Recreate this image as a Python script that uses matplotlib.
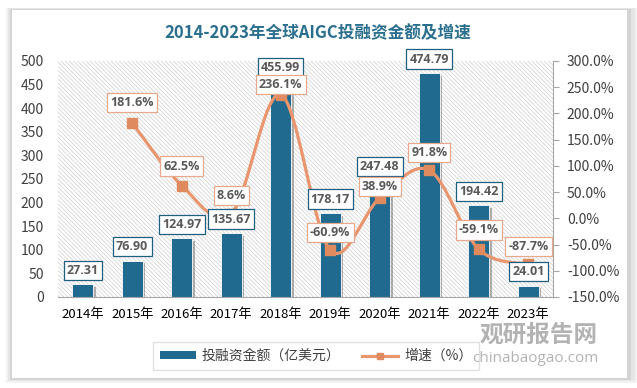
import matplotlib
matplotlib.use("Agg")
import matplotlib.pyplot as plt
import matplotlib.patheffects as pe
from matplotlib.patches import Rectangle, Patch
from matplotlib.lines import Line2D
from matplotlib.path import Path
from matplotlib.patches import PathPatch
from matplotlib.ticker import FuncFormatter

plt.rcParams['font.family'] = ['Noto Sans CJK SC', 'DejaVu Sans']
plt.rcParams['hatch.linewidth'] = 0.6

years = ['2014年', '2015年', '2016年', '2017年', '2018年',
         '2019年', '2020年', '2021年', '2022年', '2023年']
amount = [27.31, 76.90, 124.97, 135.67, 455.99, 178.17, 247.48, 474.79, 194.42, 24.01]
# growth starts in 2015
growth = [181.6, 62.5, 8.6, 236.1, -60.9, 38.9, 91.8, -59.1, -87.7]

BAR = '#1F6A8E'
LINE = '#E9956E'
MARK = '#E08A60'
GRAY = '#404040'

fig = plt.figure(figsize=(6.37, 3.88), dpi=100)
fig.patch.set_facecolor('white')

# card with soft shadow
for i, a in enumerate([0.05, 0.05, 0.07]):
    fig.patches.append(Rectangle((12 / 637 - (3 - i) * 0.003, 10 / 388 - (3 - i) * 0.004),
                                 615 / 637 + (3 - i) * 0.009, 368 / 388 + (3 - i) * 0.006,
                                 transform=fig.transFigure, facecolor='black', alpha=a,
                                 lw=0, zorder=-3))
fig.patches.append(Rectangle((12 / 637, 10 / 388), 615 / 637, 368 / 388,
                             transform=fig.transFigure, facecolor='white', lw=0, zorder=-2))

ax = fig.add_axes([58 / 637, 1 - 297 / 388, 495 / 637, 236 / 388])
ax2 = ax.twinx()
ax.set_zorder(1)
ax2.set_zorder(2)
ax.patch.set_visible(False)
ax2.patch.set_visible(False)

# hatched plot background
bg = Rectangle((0, 0), 1, 1, transform=ax.transAxes, facecolor='white',
               edgecolor='#d6d6d6', hatch='\\' * 8, lw=0, zorder=0)
ax.add_patch(bg)

x = list(range(len(years)))
ax.bar(x, amount, width=0.42, color=BAR, edgecolor='white', linewidth=0.6, zorder=2,
       path_effects=[pe.SimplePatchShadow(offset=(2, -2), shadow_rgbFace='#555555', alpha=0.45),
                     pe.Normal()])
ax.set_xlim(-0.5, len(years) - 0.5)
ax.set_ylim(0, 500)
ax.set_yticks(range(0, 501, 50))
ax.set_xticks(x)
ax.set_xticklabels(years, fontsize=9.5, color='black')
ax.tick_params(axis='x', length=0, pad=8)
ax.tick_params(axis='y', length=0, labelsize=10, colors=GRAY, pad=10)
for s in ['top', 'right', 'left']:
    ax.spines[s].set_visible(False)
ax.spines['bottom'].set_color('#a6a6a6')

# smoothed growth line (cubic bezier through points)
gx = x[1:]
pts = list(zip(gx, growth))
verts = [pts[0]]
codes = [Path.MOVETO]
n = len(pts)
for i in range(n - 1):
    p0 = pts[i - 1] if i > 0 else pts[i]
    p1 = pts[i]
    p2 = pts[i + 1]
    p3 = pts[i + 2] if i + 2 < n else pts[i + 1]
    c1 = (p1[0] + (p2[0] - p0[0]) / 6, p1[1] + (p2[1] - p0[1]) / 6)
    c2 = (p2[0] - (p3[0] - p1[0]) / 6, p2[1] - (p3[1] - p1[1]) / 6)
    verts += [c1, c2, p2]
    codes += [Path.CURVE4] * 3
ax2.add_patch(PathPatch(Path(verts, codes), fc='none', ec=LINE, lw=2.3, zorder=3))
ax2.plot(gx, growth, ls='none', marker='s', ms=6.5, color=MARK, zorder=4)

ax2.set_ylim(-150, 300)
ax2.set_yticks(range(-150, 301, 50))
ax2.yaxis.set_major_formatter(FuncFormatter(lambda v, p: f'{v:.1f}%'))
ax2.tick_params(axis='y', length=4, labelsize=10, colors=GRAY, pad=6, color='#a6a6a6')
for s in ['top', 'left', 'bottom']:
    ax2.spines[s].set_visible(False)
ax2.spines['right'].set_color('#a6a6a6')

# bar labels drawn on top axes so they sit above the line
for xi, v in zip(x, amount):
    ax2.annotate(f'{v:.2f}', (xi, v), xycoords=ax.transData, xytext=(0, 10),
                 textcoords='offset points', ha='center', va='center', fontsize=9,
                 fontweight='bold', color='#595959', family=['Open Sans', 'DejaVu Sans'],
                 zorder=5, annotation_clip=False,
                 bbox=dict(boxstyle='square,pad=0.25', fc='white', ec='#1F5F80', lw=0.9))

offs = [15, 14, 13, 7, 13, 8, 13, 14, 13]
for xi, v, o in zip(gx, growth, offs):
    ax2.annotate(f'{v:.1f}%', (xi, v), xytext=(0, o), textcoords='offset points',
                 ha='center', va='center', fontsize=9, fontweight='bold', color='#595959',
                 family=['Open Sans', 'DejaVu Sans'], zorder=6,
                 bbox=dict(boxstyle='square,pad=0.25', fc='white', ec='#E8A98A', lw=0.9))

fig.text(318 / 637, 1 - 33 / 388, '2014-2023年全球AIGC投融资金额及增速', ha='center', va='center',
         fontsize=12, fontweight='bold', color='#2B6F8E')

# watermark
fig.text(598 / 637, 1 - 335 / 388, '观研报告网', ha='right', va='center', fontsize=17,
         fontweight='bold', color='#9a9a9a', alpha=0.75)
fig.text(598 / 637, 1 - 359 / 388, 'chinabaogao.com', ha='right', va='center', fontsize=11,
         color='#9a9a9a', alpha=0.75, family=['Open Sans', 'DejaVu Sans'])

handles = [Patch(facecolor=BAR, edgecolor='none'),
           Line2D([], [], color=LINE, lw=2.3, marker='s', ms=5, mfc=MARK, mec=MARK)]
leg = fig.legend(handles, ['投融资金额（亿美元）', '增速（%）'], loc='center',
                 bbox_to_anchor=(316 / 637, 1 - 356 / 388), ncol=2, fontsize=10,
                 frameon=True, fancybox=False, edgecolor='#d9d9d9', handlelength=2.6,
                 handleheight=0.45, handletextpad=0.4, columnspacing=1.6, borderpad=0.5)
leg.get_frame().set_facecolor('none')
for t in leg.get_texts():
    t.set_color(GRAY)

fig.savefig('out.png', dpi=100)
